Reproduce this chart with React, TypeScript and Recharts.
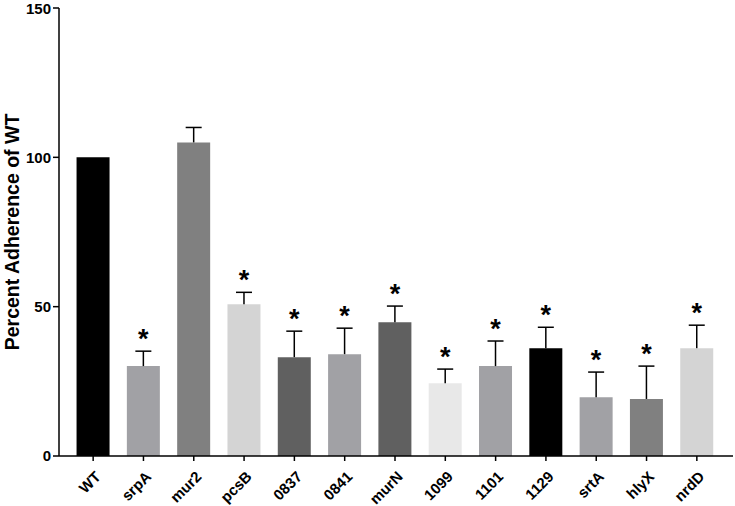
import { ComposedChart, Bar, XAxis, YAxis, Cell, LabelList } from 'recharts';

const strains = ['WT', 'srpA', 'mur2', 'pcsB', '0837', '0841', 'murN', '1099', '1101', '1129', 'srtA', 'hlyX', 'nrdD'];
const adherence = [100, 30.1, 105, 50.8, 33.1, 34.1, 44.8, 24.4, 30.1, 36.1, 19.7, 19.1, 36.1];
const errUp = [0, 5.0, 5.0, 4.0, 8.7, 8.7, 5.4, 4.7, 8.4, 7.0, 8.4, 11.0, 7.7];
const significant = [false, true, false, true, true, true, true, true, true, true, true, true, true];
const barColors = ['#000000', '#a1a1a5', '#808080', '#d4d4d4', '#606060', '#a1a1a5', '#606060', '#e8e8e8', '#a1a1a5', '#000000', '#a1a1a5', '#808080', '#d4d4d4'];
const yTicks = [0, 50, 100, 150];

const data = strains.map((name, i) => ({ name, value: adherence[i] }));

const font = '"Liberation Sans", Arial, sans-serif';

function XTick(props: any) {
  const { x, y, payload } = props;
  return (
    <g transform={`translate(${x + 3},${y + 9})`}>
      <text
        x={0}
        y={0}
        dy={8}
        textAnchor="end"
        transform="rotate(-45)"
        fontFamily={font}
        fontWeight="bold"
        fontSize={15}
        fill="#000"
      >
        {payload.value}
      </text>
    </g>
  );
}

// upward-only SD bar with cap, plus significance star
function ErrAndStar(props: any) {
  const { x, y, width, height, index } = props;
  if (!errUp[index]) return null;
  const scale = height / adherence[index];
  const top = y - errUp[index] * scale;
  const cx = x + width / 2;
  return (
    <g>
      <line x1={cx} y1={y} x2={cx} y2={top} stroke="#000" strokeWidth={1.5} />
      <line x1={cx - 8} y1={top} x2={cx + 8} y2={top} stroke="#000" strokeWidth={1.5} />
      {significant[index] && (
        <text
          x={cx}
          y={top - 3}
          textAnchor="middle"
          fontFamily={font}
          fontWeight="bold"
          fontSize={27}
          fill="#000"
        >
          *
        </text>
      )}
    </g>
  );
}

function YLabel(props: any) {
  const { viewBox } = props;
  const cy = viewBox.y + viewBox.height / 2;
  return (
    <text
      x={12}
      y={cy}
      transform={`rotate(-90, 12, ${cy})`}
      textAnchor="middle"
      dominantBaseline="central"
      fontFamily={font}
      fontWeight="bold"
      fontSize={19.5}
      fill="#000"
    >
      Percent Adherence of WT
    </text>
  );
}

export default function App() {
  return (
    <div style={{ position: 'absolute', left: 0, top: 0, background: '#fff' }}>
      <ComposedChart
        width={735}
        height={506}
        data={data}
        margin={{ top: 8, right: 2, bottom: 2, left: 9 }}
        barCategoryGap="17%"
      >
        <XAxis
          dataKey="name"
          interval={0}
          tick={<XTick />}
          tickSize={5}
          height={48}
          padding={{ left: 9, right: 11 }}
          axisLine={{ stroke: '#000', strokeWidth: 1.5 }}
          tickLine={{ stroke: '#000', strokeWidth: 1.5 }}
        />
        <YAxis
          domain={[0, 150]}
          ticks={yTicks}
          width={50}
          tickSize={6}
          axisLine={{ stroke: '#000', strokeWidth: 1.5 }}
          tickLine={{ stroke: '#000', strokeWidth: 1.5 }}
          tick={{ fontFamily: font, fontWeight: 'bold', fontSize: 15, fill: '#000' }}
          label={<YLabel />}
        />
        <Bar dataKey="value" isAnimationActive={false}>
          {data.map((d, i) => (
            <Cell key={d.name} fill={barColors[i]} />
          ))}
          <LabelList dataKey="value" content={<ErrAndStar />} />
        </Bar>
      </ComposedChart>
    </div>
  );
}
